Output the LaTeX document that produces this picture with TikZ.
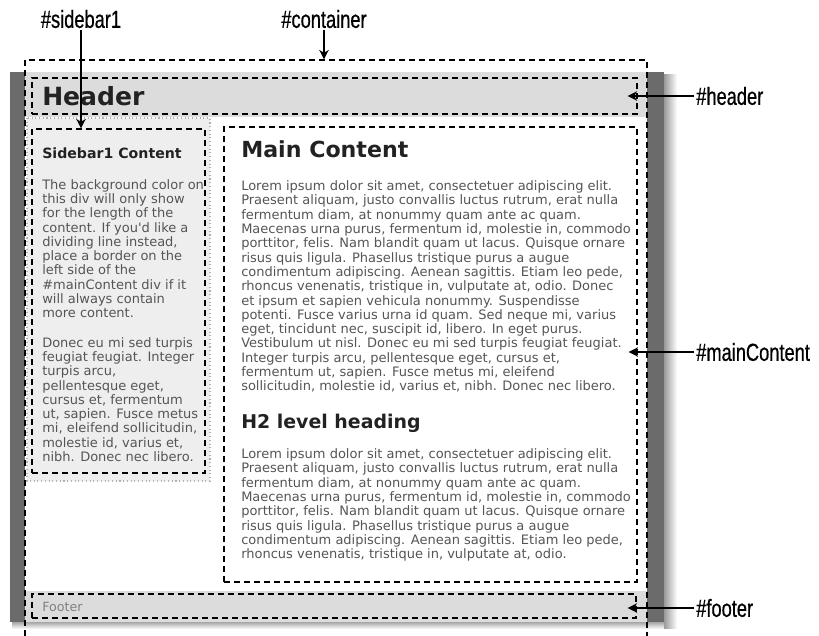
\documentclass[tikz,border=0pt]{standalone}
\usepackage{fontspec}
\newfontfamily\dv{DejaVu Sans}
\newfontfamily\lab[FakeStretch=0.74,FakeBold=0.6]{Liberation Sans}
\usetikzlibrary{arrows.meta,fit,calc}
\definecolor{bandgray}{HTML}{DCDCDC}
\definecolor{sidegray}{HTML}{EEEEEE}
\definecolor{bargray}{HTML}{6B6B6B}
\definecolor{bodygray}{HTML}{555555}
\definecolor{headdark}{HTML}{222222}
\begin{document}
\begin{tikzpicture}[x=0.75pt,y=-0.75pt,
  dbox/.style={draw=black, line width=0.9pt, dash pattern=on 4.5pt off 3pt, inner sep=0pt},
  arr/.style={draw=black, line width=1.5pt, -{Stealth[length=7pt,width=7pt,inset=2pt]}},
  lbl/.style={font=\lab\fontsize{18.5pt}{20pt}\selectfont, inner sep=1.5pt, text=black},
  body/.style={font=\dv\fontsize{9.75pt}{10.725pt}\selectfont, text=bodygray, inner sep=0pt, align=left, anchor=north west},
  hd/.style={text=headdark, inner sep=0pt, anchor=base west}]
\useasboundingbox (0,0) rectangle (819,636);
% page shadow
\shade[left color=black!40, right color=white] (664,74) rectangle (677,628);
\shade[top color=black!35, bottom color=white] (12,622) rectangle (664,629);
% page
\fill[white] (25,72) rectangle (647,622);
\fill[bargray] (10,72) rectangle (25,622);
\fill[bargray] (647,72) rectangle (664,622);
\fill[bandgray] (25,72) rectangle (647,117);
\fill[bandgray] (25,591) rectangle (647,622);
\filldraw[fill=sidegray, draw=gray!60, dotted, line width=0.8pt] (27,118) rectangle (210,481);
% boxes
\node[dbox, fit={(25,60)(647,646)}] (container) {};
\node[dbox, fit={(32,78)(637,114)}] (header) {};
\node[dbox, fit={(32,129)(205,473)}] (sidebar) {};
\node[dbox, fit={(224,127)(637,582)}] (main) {};
\node[dbox, fit={(32,594)(636,618)}] (footer) {};
% texts
\node[hd, font=\dv\bfseries\fontsize{18.8pt}{20pt}\selectfont] (htext) at (42,105) {Header};
\node[hd, font=\dv\bfseries\fontsize{10.6pt}{12pt}\selectfont] (sbhead) at (42,158) {Sidebar1 Content};
\node[body] (sbp1) at (42,179) {The background color on\\this div will only show\\for the length of the\\content. If you'd like a\\dividing line instead,\\place a border on the\\left side of the\\\#mainContent div if it\\will always contain\\more content.};
\node[body] (sbp2) at (42,337) {Donec eu mi sed turpis\\feugiat feugiat. Integer\\turpis arcu,\\pellentesque eget,\\cursus et, fermentum\\ut, sapien. Fusce metus\\mi, eleifend sollicitudin,\\molestie id, varius et,\\nibh. Donec nec libero.};
\node[hd, font=\dv\bfseries\fontsize{16.6pt}{18pt}\selectfont] (mhead) at (241,157) {Main Content};
\node[body] (mp1) at (241,180.5) {Lorem ipsum dolor sit amet, consectetuer adipiscing elit.\\Praesent aliquam, justo convallis luctus rutrum, erat nulla\\fermentum diam, at nonummy quam ante ac quam.\\Maecenas urna purus, fermentum id, molestie in, commodo\\porttitor, felis. Nam blandit quam ut lacus. Quisque ornare\\risus quis ligula. Phasellus tristique purus a augue\\condimentum adipiscing. Aenean sagittis. Etiam leo pede,\\rhoncus venenatis, tristique in, vulputate at, odio. Donec\\et ipsum et sapien vehicula nonummy. Suspendisse\\potenti. Fusce varius urna id quam. Sed neque mi, varius\\eget, tincidunt nec, suscipit id, libero. In eget purus.\\Vestibulum ut nisl. Donec eu mi sed turpis feugiat feugiat.\\Integer turpis arcu, pellentesque eget, cursus et,\\fermentum ut, sapien. Fusce metus mi, eleifend\\sollicitudin, molestie id, varius et, nibh. Donec nec libero.};
\node[hd, font=\dv\bfseries\fontsize{14.2pt}{16pt}\selectfont] (h2) at (241,428) {H2 level heading};
\node[body] (mp2) at (241,448.5) {Lorem ipsum dolor sit amet, consectetuer adipiscing elit.\\Praesent aliquam, justo convallis luctus rutrum, erat nulla\\fermentum diam, at nonummy quam ante ac quam.\\Maecenas urna purus, fermentum id, molestie in, commodo\\porttitor, felis. Nam blandit quam ut lacus. Quisque ornare\\risus quis ligula. Phasellus tristique purus a augue\\condimentum adipiscing. Aenean sagittis. Etiam leo pede,\\rhoncus venenatis, tristique in, vulputate at, odio.};
\node[hd, text=gray, font=\dv\fontsize{9.5pt}{11pt}\selectfont] (ftext) at (42,611) {Footer};
% labels
\node[lbl] (sblabel) at (81,19) {\#sidebar1};
\node[lbl] (ctlabel) at (324,19) {\#container};
\node[lbl, anchor=west] (hdlabel) at (694,96) {\#header};
\node[lbl, anchor=west] (mclabel) at (694,352) {\#mainContent};
\node[lbl, anchor=west] (ftlabel) at (694,608) {\#footer};
% tips
\coordinate (htip) at ($(header.east)+(-10,0)$);
\coordinate (mtip) at ($(main.east)+(-9,0)$);
\coordinate (ftip) at ($(footer.east)+(-9,0)$);
% arrows
\draw[arr] (sblabel.south) -- (sblabel.south |- sidebar.north);
\draw[arr] (ctlabel.south) -- (ctlabel.south |- container.north);
\draw[arr] (hdlabel.west) -- (hdlabel.west -| htip);
\draw[arr] (mclabel.west) -- (mclabel.west -| mtip);
\draw[arr] (ftlabel.west) -- (ftlabel.west -| ftip);
\end{tikzpicture}
\end{document}
